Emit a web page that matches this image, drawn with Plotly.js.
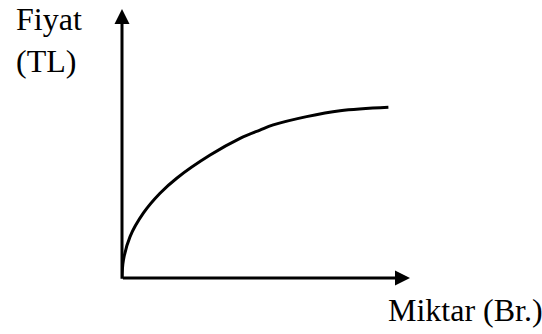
<!DOCTYPE html>
<html>
<head>
<meta charset="utf-8">
<script src="https://cdn.plot.ly/plotly-3.0.1.min.js"></script>
<style>
html,body{margin:0;padding:0;background:#fff;}
#chart{width:542px;height:334px;}
</style>
</head>
<body>
<div id="chart"></div>
<script>
// Curve (axis units 0..10)
var quantity = [0, 0.05, 0.28, 0.74, 1.32, 1.90, 3.06, 4.10, 4.79, 5.25, 6.41, 7.57, 9.25];
var price    = [0, 0.67, 1.54, 2.41, 3.15, 3.71, 4.57, 5.19, 5.50, 5.69, 6.00, 6.22, 6.35];
var yLabel = "Fiyat<br>(TL)";
var xLabel = "Miktar (Br.)";
var axisMax = 10;

var serif = "Times New Roman, Liberation Serif, DejaVu Serif, serif";

var trace = {
  x: quantity,
  y: price,
  mode: "lines",
  line: {color: "#000", width: 3, shape: "spline", smoothing: 1},
  hoverinfo: "skip"
};

var layout = {
  width: 542,
  height: 334,
  margin: {l: 122, r: 132, t: 9, b: 56},
  paper_bgcolor: "#fff",
  plot_bgcolor: "#fff",
  showlegend: false,
  font: {family: serif},
  xaxis: {range: [0, axisMax], visible: false, fixedrange: true},
  yaxis: {range: [0, axisMax], visible: false, fixedrange: true},
  annotations: [
    {x: 0, y: axisMax, xref: "x", yref: "y", ax: 0, ay: -0.08, axref: "x", ayref: "y",
     showarrow: true, arrowhead: 2, arrowsize: 1, arrowwidth: 3, arrowcolor: "#000", text: ""},
    {x: axisMax, y: 0, xref: "x", yref: "y", ax: -0.02, ay: 0, axref: "x", ayref: "y",
     showarrow: true, arrowhead: 2, arrowsize: 1, arrowwidth: 3, arrowcolor: "#000", text: ""},
    {x: -108/288, y: 1 + 10/269, xref: "paper", yref: "paper", xanchor: "left", yanchor: "top",
     align: "left", showarrow: false, text: yLabel,
     font: {family: serif, size: 32, color: "#000"}},
    {x: 264/288, y: -32/269, xref: "paper", yref: "paper", xanchor: "left", yanchor: "middle",
     align: "left", showarrow: false, text: xLabel,
     font: {family: serif, size: 32, color: "#000"}}
  ]
};

Plotly.newPlot("chart", [trace], layout, {displayModeBar: false, staticPlot: true});
</script>
</body>
</html>
